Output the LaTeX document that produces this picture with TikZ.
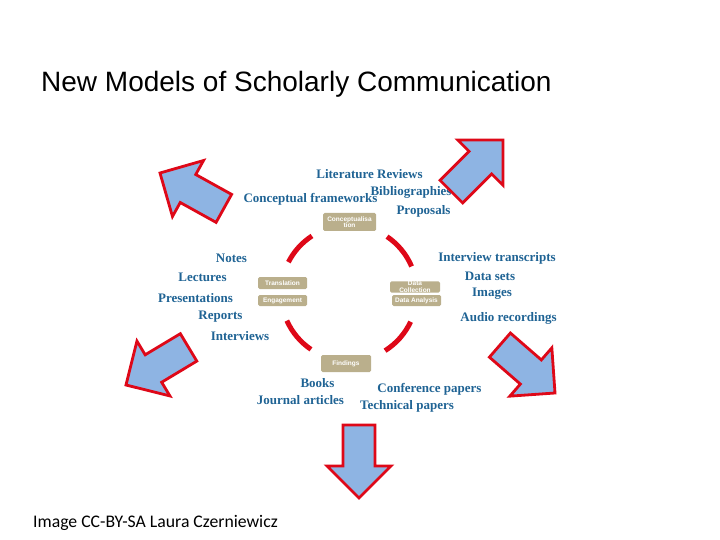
\documentclass[tikz,border=0pt]{standalone}
\usepackage{fontspec}
\setmainfont{Liberation Serif}
\newfontfamily\titlefont{Liberation Sans}
\newfontfamily\creditfont{Carlito}
\usepackage{tikz}
\usetikzlibrary{calc}
\usepackage{xcolor}
\definecolor{itemblue}{RGB}{31,99,148}
\definecolor{stagetan}{RGB}{186,175,140}
\definecolor{arrowfill}{RGB}{142,180,227}
\definecolor{arrowred}{RGB}{222,8,24}

\begin{document}
\begin{tikzpicture}[x=1pt,y=-1pt,
    output/.style={text=itemblue, font=\fontsize{13}{14}\selectfont\bfseries, inner sep=0pt},
    stage/.style={fill=stagetan, rounded corners=1.5pt, text=white, inner sep=0pt, align=center,
        font=\titlefont\fontsize{6.5}{6.5}\selectfont\bfseries},
    ring/.style={draw=arrowred, line width=5pt},
    bigarrow/.style={draw=arrowred, fill=arrowfill, line width=2.8pt, line join=miter}]
    \useasboundingbox (0,0) rectangle (720,540);
    \node[anchor=base west, inner sep=0pt, font=\titlefont\fontsize{28}{32}\selectfont] (title) at (41,92) {New Models of Scholarly Communication};
    \node[anchor=base west, inner sep=0pt, font=\creditfont\fontsize{17.7}{20}\selectfont] (credit) at (33,527) {Image CC-BY-SA Laura Czerniewicz};

    \coordinate (hub) at (349,293);
    \foreach \a/\b in {-123/-153, -23/-56, -204/-236, -302/-335}
        \draw[ring] ($(hub)+(\a:68)$) arc[start angle=\a, end angle=\b, radius=68];

    \node[stage, minimum width=53pt, minimum height=18pt] (concept) at (349.5,222) {Conceptualisa\\tion};
    \node[stage, minimum width=49pt, minimum height=12pt] (transl) at (282.5,283) {Translation};
    \node[stage, minimum width=49pt, minimum height=11pt] (engage) at (282.5,300.5) {Engagement};
    \node[stage, minimum width=50pt, minimum height=10pt] (collect) at (415,287) {Data\\Collection};
    \node[stage, minimum width=49pt, minimum height=11pt] (analysis) at (416.5,300.5) {Data Analysis};
    \node[stage, minimum width=50pt, minimum height=17pt] (findings) at (346,363.5) {Findings};

    \node[output] (litrev) at (369.5,174) {Literature Reviews};
    \node[output] (biblio) at (411,192) {Bibliographies};
    \node[output] (frames) at (310.5,199) {Conceptual frameworks};
    \node[output] (propos) at (423.5,211) {Proposals};
    \node[output] (notes) at (231.5,258) {Notes};
    \node[output] (lect) at (202.5,277) {Lectures};
    \node[output] (present) at (195.5,298) {Presentations};
    \node[output] (reports) at (220.5,317) {Reports};
    \node[output] (interv) at (240,336) {Interviews};
    \node[output] (transcr) at (497,258) {Interview transcripts};
    \node[output] (datasets) at (490,276) {Data sets};
    \node[output] (images) at (492,294) {Images};
    \node[output] (audio) at (508.5,318) {Audio recordings};
    \node[output] (books) at (317.5,383) {Books};
    \node[output] (journal) at (300.5,400) {Journal articles};
    \node[output] (confer) at (429.5,389) {Conference papers};
    \node[output] (techn) at (407,406) {Technical papers};

    \foreach \tx/\ty/\ang in {503/140/45, 160/173/151, 126/385/211, 555/393/-41, 359/498/-90}
        \draw[bigarrow, shift={(\tx,\ty)}, rotate=\ang] (0,0) -- (-32,32) -- (-32,16) -- (-73,16)
            -- (-73,-16) -- (-32,-16) -- (-32,-32) -- cycle;
\end{tikzpicture}
\end{document}
